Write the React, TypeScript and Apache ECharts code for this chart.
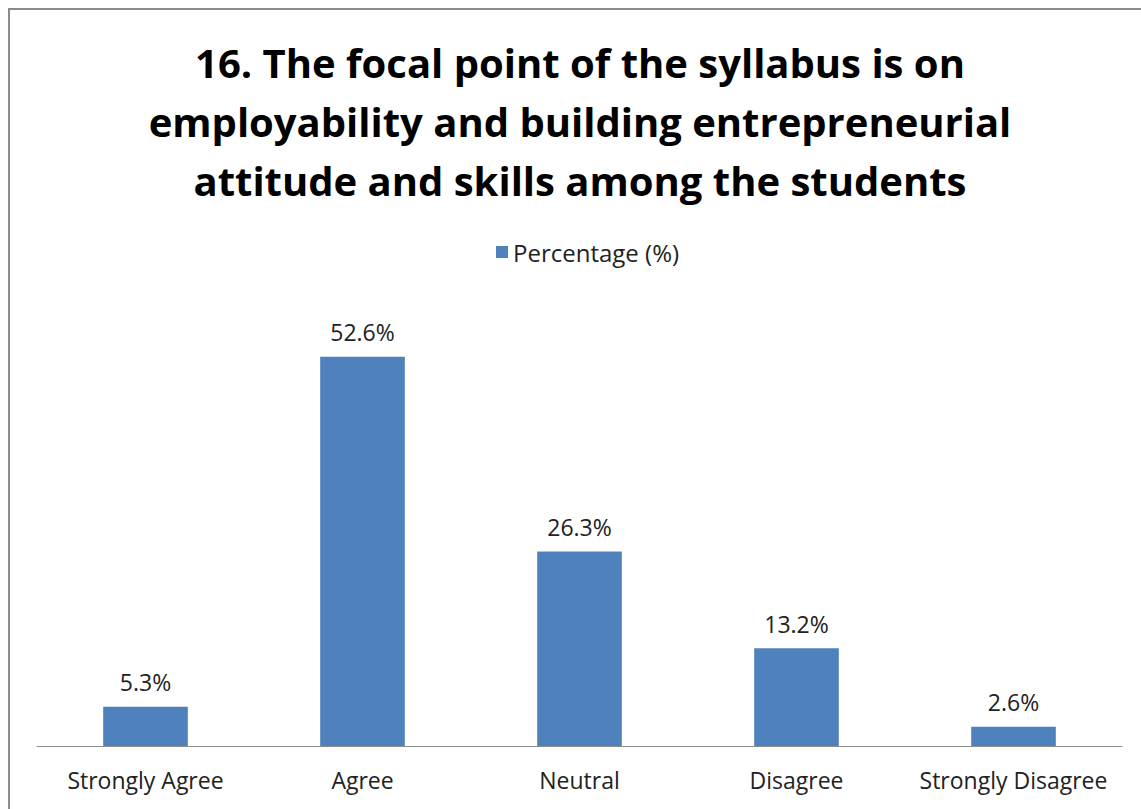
import React, { useEffect, useRef } from "react";
import * as echarts from "echarts";

const categories = ["Strongly Agree", "Agree", "Neutral", "Disagree", "Strongly Disagree"];
const percentages = [5.3, 52.6, 26.3, 13.2, 2.6];
const seriesName = "Percentage (%)";
const titleLines = [
  "16. The focal point of the syllabus is on",
  "employability and building entrepreneurial",
  "attitude and skills among the students",
];

export default function App() {
  const ref = useRef<HTMLDivElement>(null);
  useEffect(() => {
    if (!ref.current) return;
    const chart = echarts.init(ref.current, null, { renderer: "svg" });
    const font = "Open Sans";
    chart.setOption({
      animation: false,
      backgroundColor: "#ffffff",
      graphic: [
        {
          type: "polyline",
          shape: { points: [[9, 809], [9, 9], [1141, 9]] },
          style: { stroke: "#8c8c8c", lineWidth: 2, fill: null },
        },
        ...titleLines.map((t, i) => ({
          type: "text",
          x: 580,
          y: 62 + i * 59,
          style: {
            text: t,
            fontFamily: font,
            fontWeight: "bold",
            fontSize: 40,
            fill: "#000000",
            textAlign: "center",
            textVerticalAlign: "middle",
          },
        })),
      ],
      legend: {
        top: 235,
        left: 491,
        data: [seriesName],
        icon: "rect",
        itemWidth: 12,
        itemHeight: 12,
        itemGap: 8,
        textStyle: { fontFamily: font, fontSize: 24, color: "#222" },
      },
      grid: { left: 37, right: 19, top: 302, bottom: 63, containLabel: false },
      xAxis: {
        type: "category",
        data: categories,
        axisLine: { lineStyle: { color: "#8c8c8c", width: 1 } },
        axisTick: { show: false },
        axisLabel: { interval: 0, fontFamily: font, fontSize: 23, color: "#222", margin: 22 },
      },
      yAxis: {
        type: "value",
        min: 0,
        max: 60,
        show: false,
        splitLine: { show: false },
      },
      series: [
        {
          name: seriesName,
          type: "bar",
          data: percentages,
          barWidth: "39%",
          itemStyle: { color: "#4f81bd" },
          label: {
            show: true,
            position: "top",
            distance: 13,
            formatter: (p: any) => p.value.toFixed(1) + "%",
            fontFamily: font,
            fontSize: 23,
            color: "#222",
          },
        },
      ],
    });
    return () => chart.dispose();
  }, []);
  return (
    <div
      ref={ref}
      style={{ position: "fixed", left: 0, top: 0, width: 1141, height: 809 }}
    />
  );
}
